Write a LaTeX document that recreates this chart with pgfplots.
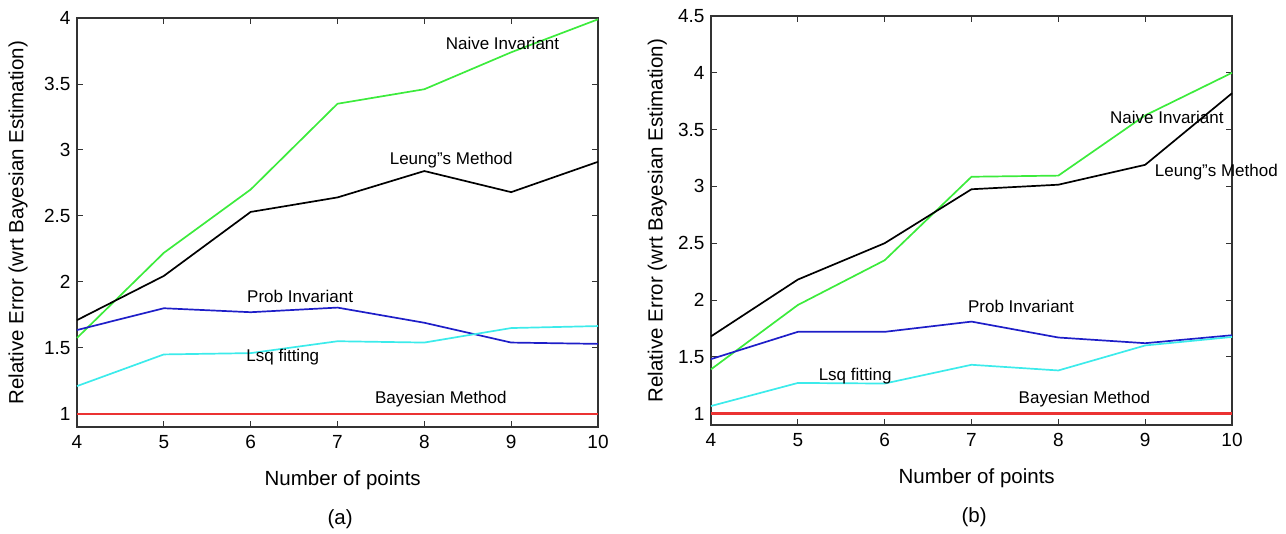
\documentclass[border=0pt]{standalone}
\usepackage{pgfplots}
\pgfplotsset{compat=1.18}
\usepackage{fontspec}
\setmainfont{Liberation Sans}

\definecolor{cgreen}{RGB}{60,235,60}
\definecolor{cblue}{RGB}{30,30,200}
\definecolor{ccyan}{RGB}{60,235,235}
\definecolor{cred}{RGB}{235,50,50}

\newcommand{\lblfont}{\fontsize{17}{20}\selectfont}
\newcommand{\axfont}{\fontsize{20.5}{24}\selectfont}

\tikzset{lbl/.style={font=\lblfont, inner sep=0pt}}

\pgfplotsset{
  myax/.style={
    scale only axis,
    width=521pt, height=409pt,
    xmin=4, xmax=10, ymin=0.9,
    xtick={4,5,6,7,8,9,10},
    axis line style={line width=1.1pt, black!80},
    major tick length=6pt,
    tick style={line width=0.9pt, black!80},
    /pgf/number format/assume math mode=true,
    ticklabel style={font=\fontsize{19}{22}\selectfont},
    xticklabel style={yshift=-5pt},
    yticklabel style={xshift=-3pt},
    xlabel={Number of points},
    ylabel={Relative Error (wrt Bayesian Estimation)},
    every axis x label/.style={at={(axis description cs:0.51,-0.13)}, anchor=center, font=\axfont},
    clip=false,
  },
  ln/.style={line width=1.7pt},
  base/.style={line width=2.6pt, cred},
}

\begin{document}
\begin{tikzpicture}
% (a)
\begin{axis}[myax, ymax=4, ytick={1,1.5,2,2.5,3,3.5,4},
  every axis y label/.style={at={(axis description cs:-0.113,0.5)}, rotate=90, anchor=center, font=\axfont}]
\addplot[ln, cgreen] coordinates {(4,1.575) (5,2.22) (6,2.70) (7,3.35) (8,3.46) (9,3.74) (10,3.99)};
\addplot[ln, black] coordinates {(4,1.71) (5,2.045) (6,2.53) (7,2.64) (8,2.84) (9,2.68) (10,2.91)};
\addplot[ln, cblue] coordinates {(4,1.635) (5,1.80) (6,1.77) (7,1.805) (8,1.69) (9,1.54) (10,1.53)};
\addplot[ln, ccyan] coordinates {(4,1.21) (5,1.45) (6,1.46) (7,1.55) (8,1.54) (9,1.65) (10,1.665)};
\addplot[base] coordinates {(4,1) (5,1) (6,1) (7,1) (8,1) (9,1) (10,1)};
\node[lbl] at (axis cs:8.9,3.81) {Naive Invariant};
\node[lbl] at (axis cs:8.31,2.92) {Leung"s Method};
\node[lbl] at (axis cs:6.57,1.89) {Prob Invariant};
\node[lbl] at (axis cs:6.37,1.43) {Lsq fitting};
\node[lbl] at (axis cs:8.19,1.11) {Bayesian Method};
\node[font=\axfont] at (axis description cs:0.505,-0.225) {(a)};
\end{axis}
% (b)
\begin{axis}[myax, at={(634pt,2pt)}, ymax=4.5, ytick={1,1.5,2,2.5,3,3.5,4,4.5},
  every axis y label/.style={at={(axis description cs:-0.103,0.5)}, rotate=90, anchor=center, font=\axfont}]
\addplot[ln, cgreen] coordinates {(4,1.39) (5,1.956) (6,2.35) (7,3.085) (8,3.095) (9,3.625) (10,4.0)};
\addplot[ln, black] coordinates {(4,1.68) (5,2.18) (6,2.50) (7,2.975) (8,3.015) (9,3.19) (10,3.82)};
\addplot[ln, cblue] coordinates {(4,1.48) (5,1.72) (6,1.72) (7,1.81) (8,1.67) (9,1.62) (10,1.69)};
\addplot[ln, ccyan] coordinates {(4,1.067) (5,1.27) (6,1.265) (7,1.43) (8,1.38) (9,1.60) (10,1.675)};
\addplot[base] coordinates {(4,1) (5,1) (6,1) (7,1) (8,1) (9,1) (10,1)};
\node[lbl] at (axis cs:9.25,3.61) {Naive Invariant};
\node[lbl] at (axis cs:9.82,3.13) {Leung"s Method};
\node[lbl] at (axis cs:7.57,1.94) {Prob Invariant};
\node[lbl] at (axis cs:5.66,1.33) {Lsq fitting};
\node[lbl] at (axis cs:8.30,1.13) {Bayesian Method};
\node[font=\axfont] at (axis description cs:0.505,-0.225) {(b)};
\end{axis}
\pgfresetboundingbox
\useasboundingbox (-77pt,-107pt) rectangle (1209pt,427pt);
\end{tikzpicture}
\end{document}
